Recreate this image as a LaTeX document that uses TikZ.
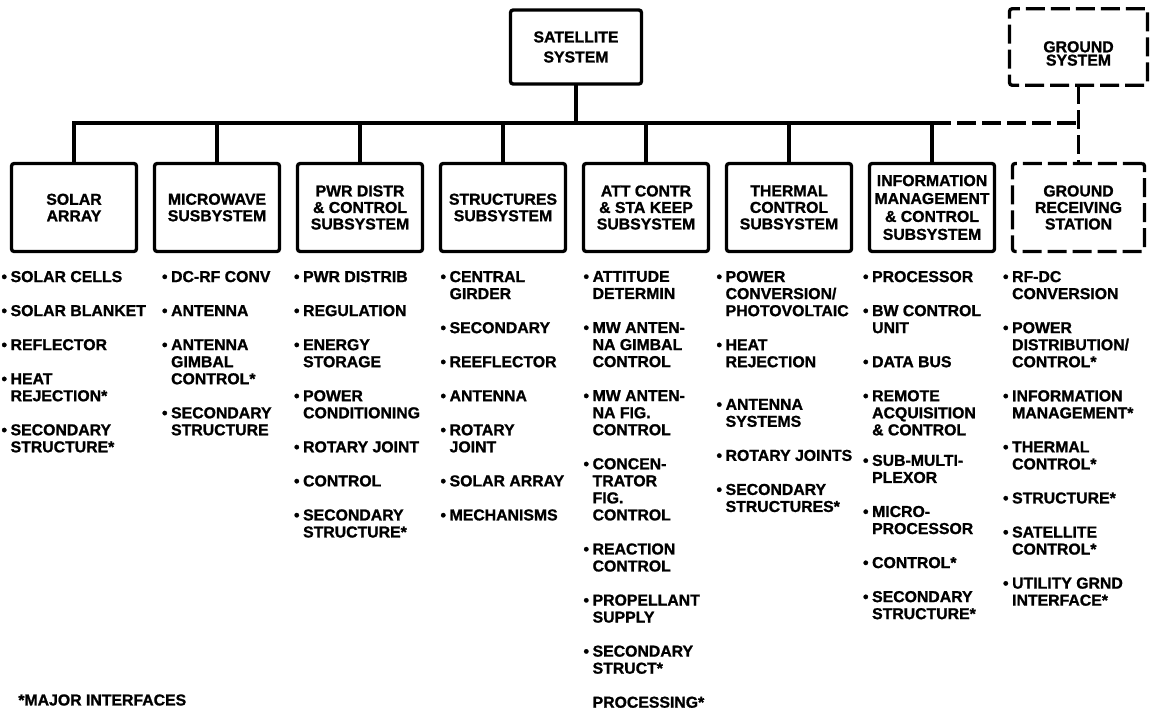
\documentclass[tikz,border=0pt]{standalone}
\usepackage{fontspec}
\setmainfont{Liberation Sans}[BoldFeatures={FakeBold=1.2}]
\usetikzlibrary{positioning}
\newcommand{\lbul}{\makebox[5.2pt][l]{•}}
\newcommand{\lind}{\hspace*{5.2pt}}
\tikzset{
  unit/.style={
    draw,
    line width=1.9pt,
    rounded corners=1.5pt,
    minimum width=2.5cm,
    minimum height=1.76cm,
    inner sep=0pt,
    outer sep=0pt,
    align=center,
    font=\fontsize{9}{9.4}\selectfont\bfseries
  },
  top/.style={
    unit,
    minimum width=2.62cm,
    minimum height=1.48cm,
    font=\fontsize{9}{11.4}\selectfont\bfseries
  },
  ground/.style={
    unit,
    dash pattern=on 0.38cm off 0.12cm
  },
  list/.style={
    inner sep=0pt,
    outer sep=0pt,
    align=left,
    font=\fontsize{9}{9.7}\selectfont\bfseries
  },
  note/.style={
    anchor=west,
    inner sep=0pt,
    font=\fontsize{9}{9.7}\selectfont\bfseries
  },
  link/.style={line width=1.9pt},
  dlink/.style={line width=1.9pt, dash pattern=on 0.38cm off 0.12cm}
}

\begin{document}
\begin{tikzpicture}
  \useasboundingbox (0,0) rectangle (23.04,-14.22);

  \node[top] (sat) at (11.52,-0.94) {SATELLITE\\SYSTEM};

  \node[unit] (solar) at (1.48,-4.15) {SOLAR\\ARRAY};
  \node[unit, right=0.36cm of solar] (micro) {MICROWAVE\\SUSBYSTEM};
  \node[unit, right=0.36cm of micro] (pwr) {PWR DISTR\\\& CONTROL\\SUBSYSTEM};
  \node[unit, right=0.36cm of pwr] (struc) {STRUCTURES\\SUBSYSTEM};
  \node[unit, right=0.36cm of struc] (att) {ATT CONTR\\\& STA KEEP\\SUBSYSTEM};
  \node[unit, right=0.36cm of att] (therm) {THERMAL\\CONTROL\\SUBSYSTEM};
  \node[unit, right=0.36cm of therm, font=\fontsize{9}{10.2}\selectfont\bfseries] (info) {INFORMATION\\MANAGEMENT\\\& CONTROL\\SUBSYSTEM};
  \node[ground, right=0.36cm of info, minimum width=2.64cm] (grs) {GROUND\\RECEIVING\\STATION};

  \node[ground, minimum width=2.76cm, minimum height=1.53cm, font=\fontsize{9}{7.6}\selectfont\bfseries] (gsys) at (grs |- sat) {\raisebox{-3.7pt}[\height][\depth]{\parbox{2cm}{\centering GROUND\\SYSTEM}}};

  \coordinate (bus) at ([yshift=-0.78cm]sat.south);

  % lists under the boxes
  \node[list, below right=0.39cm and -0.2cm of solar.south west] (solarlist) {
    \lbul SOLAR CELLS\\[0.34cm]
    \lbul SOLAR BLANKET\\[0.34cm]
    \lbul REFLECTOR\\[0.34cm]
    \lbul HEAT\\
    \lind REJECTION*\\[0.34cm]
    \lbul SECONDARY\\
    \lind STRUCTURE*};
  \node[list, below right=0.39cm and 0.15cm of micro.south west] (microlist) {
    \lbul DC-RF CONV\\[0.34cm]
    \lbul ANTENNA\\[0.34cm]
    \lbul ANTENNA\\
    \lind GIMBAL\\
    \lind CONTROL*\\[0.34cm]
    \lbul SECONDARY\\
    \lind STRUCTURE};
  \node[list, below right=0.39cm and -0.07cm of pwr.south west] (pwrlist) {
    \lbul PWR DISTRIB\\[0.34cm]
    \lbul REGULATION\\[0.34cm]
    \lbul ENERGY\\
    \lind STORAGE\\[0.34cm]
    \lbul POWER\\
    \lind CONDITIONING\\[0.34cm]
    \lbul ROTARY JOINT\\[0.34cm]
    \lbul CONTROL\\[0.34cm]
    \lbul SECONDARY\\
    \lind STRUCTURE*};
  \node[list, below right=0.39cm and 0cm of struc.south west] (struclist) {
    \lbul CENTRAL\\
    \lind GIRDER\\[0.34cm]
    \lbul SECONDARY\\[0.34cm]
    \lbul REEFLECTOR\\[0.34cm]
    \lbul ANTENNA\\[0.34cm]
    \lbul ROTARY\\
    \lind JOINT\\[0.34cm]
    \lbul SOLAR ARRAY\\[0.34cm]
    \lbul MECHANISMS};
  \node[list, below right=0.39cm and 0cm of att.south west] (attlist) {
    \lbul ATTITUDE\\
    \lind DETERMIN\\[0.34cm]
    \lbul MW ANTEN-\\
    \lind NA GIMBAL\\
    \lind CONTROL\\[0.34cm]
    \lbul MW ANTEN-\\
    \lind NA FIG.\\
    \lind CONTROL\\[0.34cm]
    \lbul CONCEN-\\
    \lind TRATOR\\
    \lind FIG.\\
    \lind CONTROL\\[0.34cm]
    \lbul REACTION\\
    \lind CONTROL\\[0.34cm]
    \lbul PROPELLANT\\
    \lind SUPPLY\\[0.34cm]
    \lbul SECONDARY\\
    \lind STRUCT*\\[0.34cm]
    \lind PROCESSING*};
  \node[list, below right=0.39cm and -0.2cm of therm.south west] (thermlist) {
    \lbul POWER\\
    \lind CONVERSION/\\
    \lind PHOTOVOLTAIC\\[0.34cm]
    \lbul HEAT\\
    \lind REJECTION\\[0.51cm]
    \lbul ANTENNA\\
    \lind SYSTEMS\\[0.34cm]
    \lbul ROTARY JOINTS\\[0.34cm]
    \lbul SECONDARY\\
    \lind STRUCTURES*};
  \node[list, below right=0.39cm and -0.13cm of info.south west] (infolist) {
    \lbul PROCESSOR\\[0.34cm]
    \lbul BW CONTROL\\
    \lind UNIT\\[0.34cm]
    \lbul DATA BUS\\[0.34cm]
    \lbul REMOTE\\
    \lind ACQUISITION\\
    \lind \& CONTROL\\[0.27cm]
    \lbul SUB-MULTI-\\
    \lind PLEXOR\\[0.34cm]
    \lbul MICRO-\\
    \lind PROCESSOR\\[0.34cm]
    \lbul CONTROL*\\[0.34cm]
    \lbul SECONDARY\\
    \lind STRUCTURE*};
  \node[list, below right=0.39cm and -0.19cm of grs.south west] (grslist) {
    \lbul RF-DC\\
    \lind CONVERSION\\[0.34cm]
    \lbul POWER\\
    \lind DISTRIBUTION/\\
    \lind CONTROL*\\[0.34cm]
    \lbul INFORMATION\\
    \lind MANAGEMENT*\\[0.34cm]
    \lbul THERMAL\\
    \lind CONTROL*\\[0.34cm]
    \lbul STRUCTURE*\\[0.34cm]
    \lbul SATELLITE\\
    \lind CONTROL*\\[0.34cm]
    \lbul UTILITY GRND\\
    \lind INTERFACE*};

  \node[note] (key) at (0.36,-14.0) {*MAJOR INTERFACES};

  % tree
  \draw[link] (sat.south) -- (bus);
  \draw[link] (solar.north) |- (info.north |- bus) -- (info.north);
  \draw[link] (micro.north) -- (micro.north |- bus);
  \draw[link] (pwr.north) -- (pwr.north |- bus);
  \draw[link] (struc.north) -- (struc.north |- bus);
  \draw[link] (att.north) -- (att.north |- bus);
  \draw[link] (therm.north) -- (therm.north |- bus);
  \draw[dlink] (info.north |- bus) -- (grs.north |- bus);
  \draw[dlink] (gsys.south) -- (grs.north);
\end{tikzpicture}
\end{document}
